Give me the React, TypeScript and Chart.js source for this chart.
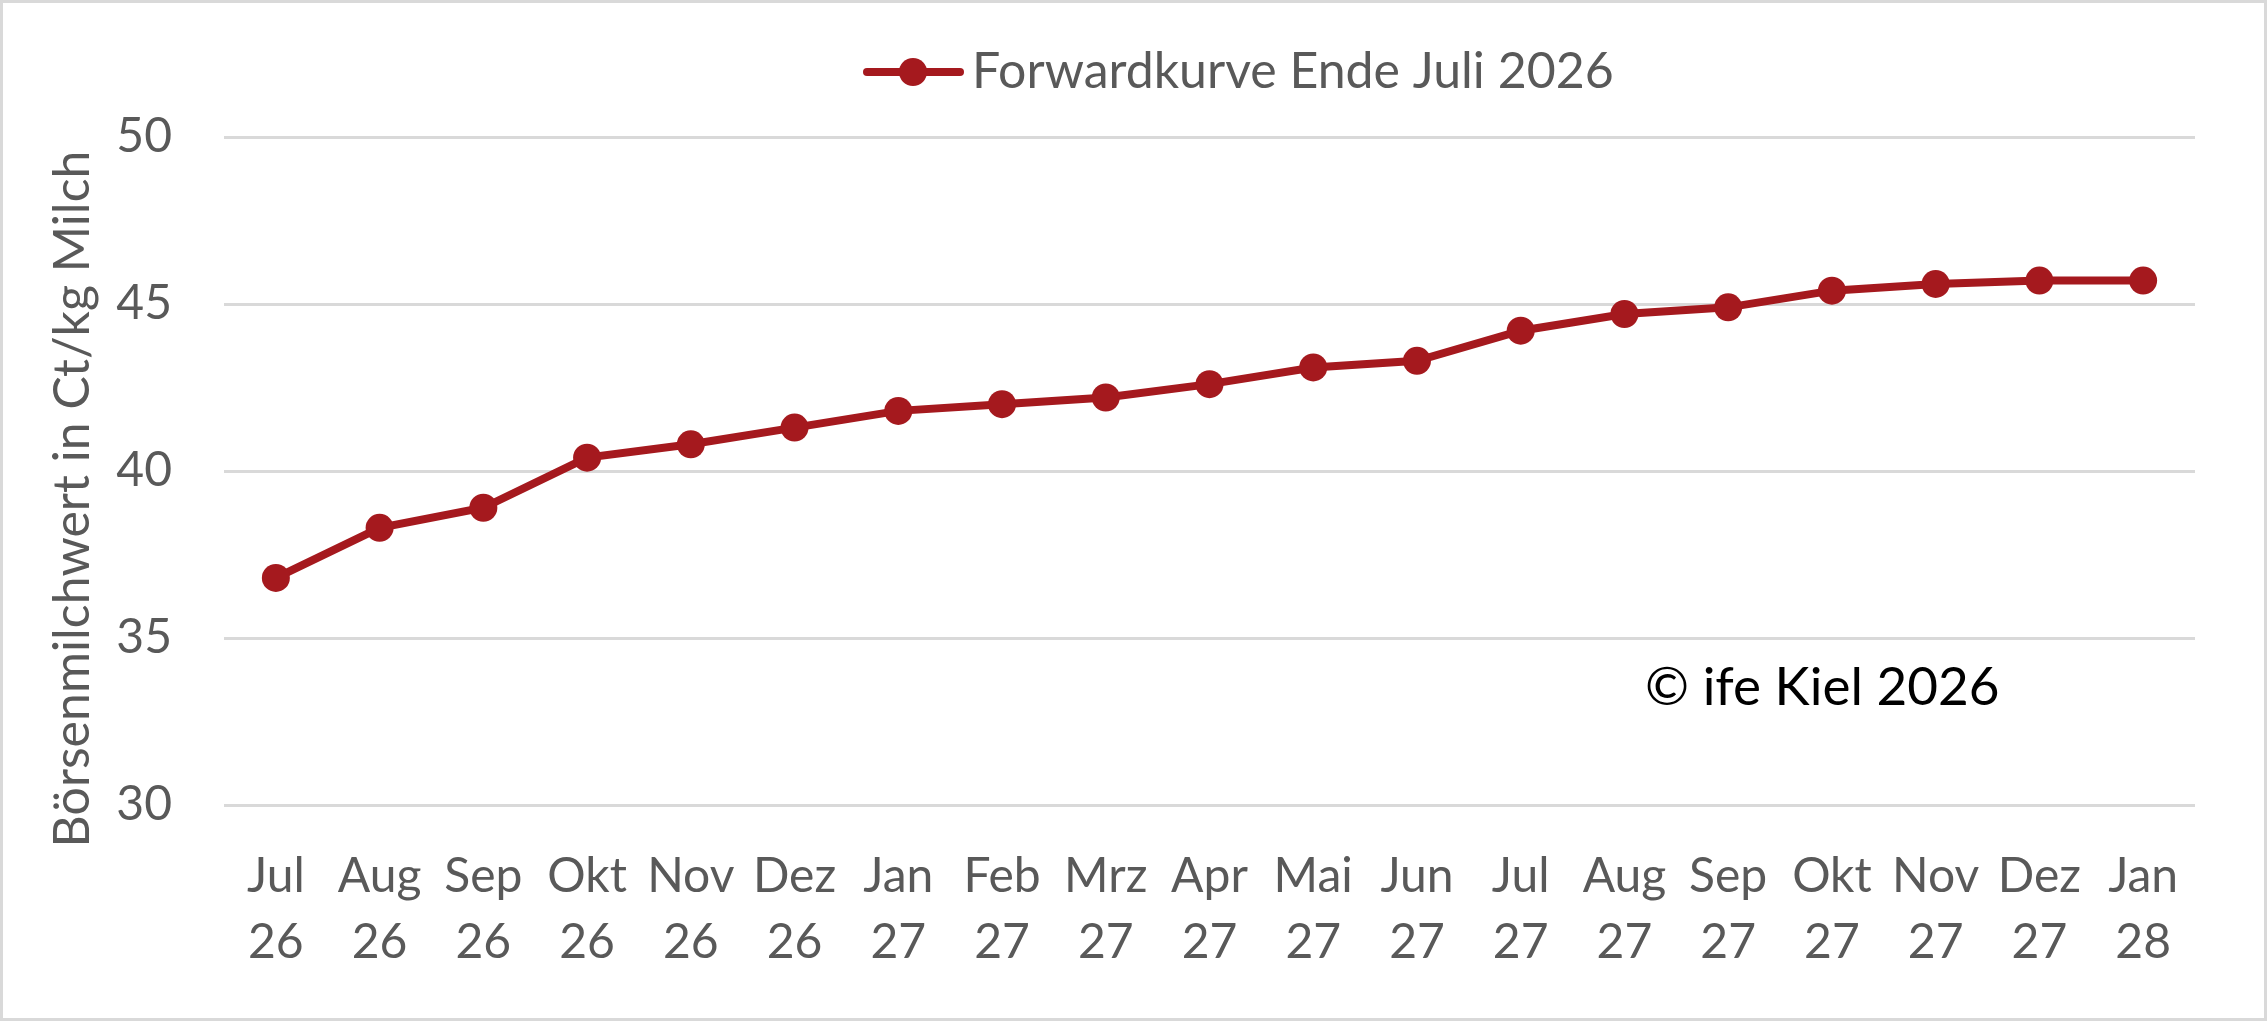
import React, { useEffect, useRef } from "react";
import Chart from "chart.js/auto";

const months = ["Jul", "Aug", "Sep", "Okt", "Nov", "Dez", "Jan", "Feb", "Mrz", "Apr", "Mai", "Jun", "Jul", "Aug", "Sep", "Okt", "Nov", "Dez", "Jan"];
const years = ["26", "26", "26", "26", "26", "26", "27", "27", "27", "27", "27", "27", "27", "27", "27", "27", "27", "27", "28"];
const forward = [36.8, 38.3, 38.9, 40.4, 40.8, 41.3, 41.8, 42.0, 42.2, 42.6, 43.1, 43.3, 44.2, 44.7, 44.9, 45.4, 45.6, 45.7, 45.7];

const seriesLabel = "Forwardkurve Ende Juli 2026";
const yTitle = "Börsenmilchwert in Ct/kg Milch";
const copyright = "© ife Kiel 2026";

const W = 2267;
const H = 1021;
const RED = "#A5191E";
const GREY = "#595959";
const FONT = "Lato, 'Open Sans', sans-serif";

export default function App() {
  const canvasRef = useRef<HTMLCanvasElement | null>(null);

  useEffect(() => {
    document.body.style.margin = "0";
    const canvas = canvasRef.current;
    if (!canvas) return;

    const chart = new Chart(canvas, {
      type: "line",
      data: {
        labels: months.map((m, i) => [m, years[i]]),
        datasets: [
          {
            label: seriesLabel,
            data: forward,
            borderColor: RED,
            backgroundColor: RED,
            borderWidth: 8,
            pointRadius: 14,
            pointHoverRadius: 14,
            pointBorderWidth: 0,
            tension: 0,
          },
        ],
      },
      options: {
        responsive: false,
        animation: false,
        devicePixelRatio: 1,
        layout: { padding: { top: 137, right: 72, bottom: 0, left: 0 } },
        plugins: {
          legend: { display: false },
          tooltip: { enabled: false },
        },
        scales: {
          x: {
            offset: true,
            grid: { display: false },
            border: { display: false },
            ticks: {
              color: GREY,
              font: { family: FONT, size: 48, lineHeight: 1.375 },
              padding: 31,
              maxRotation: 0,
              autoSkip: false,
            },
            afterFit: (scale) => {
              scale.height = H - 805;
            },
          },
          y: {
            min: 30,
            max: 50,
            ticks: {
              stepSize: 5,
              color: GREY,
              font: { family: FONT, size: 48 },
              padding: 52,
            },
            grid: { color: "#D9D9D9", lineWidth: 3, drawTicks: false },
            border: { display: false },
            afterFit: (scale) => {
              scale.width = 224;
            },
          },
        },
      },
      plugins: [
        {
          id: "frame",
          beforeDraw: (c) => {
            const ctx = c.ctx;
            ctx.save();
            ctx.fillStyle = "#FFFFFF";
            ctx.fillRect(0, 0, c.width, c.height);
            ctx.strokeStyle = "#D9D9D9";
            ctx.lineWidth = 3;
            ctx.strokeRect(1.5, 1.5, c.width - 3, c.height - 3);
            ctx.restore();
          },
          afterDraw: (c) => {
            const ctx = c.ctx;
            const area = c.chartArea;
            ctx.save();

            // y axis title
            ctx.translate(73, (area.top + area.bottom) / 2 + 28);
            ctx.rotate(-Math.PI / 2);
            ctx.fillStyle = GREY;
            ctx.font = `50px ${FONT}`;
            ctx.textAlign = "center";
            ctx.textBaseline = "middle";
            ctx.fillText(yTitle, 0, 0);
            ctx.setTransform(1, 0, 0, 1, 0, 0);

            // legend: line with marker, then label
            const ly = 72;
            const lx = 867;
            ctx.strokeStyle = RED;
            ctx.lineWidth = 8;
            ctx.lineCap = "round";
            ctx.beginPath();
            ctx.moveTo(lx, ly);
            ctx.lineTo(lx + 93, ly);
            ctx.stroke();
            ctx.fillStyle = RED;
            ctx.beginPath();
            ctx.arc(lx + 46, ly, 14, 0, Math.PI * 2);
            ctx.fill();
            ctx.fillStyle = GREY;
            ctx.font = `50px ${FONT}`;
            ctx.textAlign = "left";
            ctx.textBaseline = "middle";
            ctx.fillText(seriesLabel, lx + 105, ly);

            // copyright note
            ctx.fillStyle = "#000000";
            ctx.font = `53px ${FONT}`;
            ctx.fillText(copyright, 1645, 688);

            ctx.restore();
          },
        },
      ],
    });

    return () => {
      chart.destroy();
    };
  }, []);

  return (
    <div style={{ width: W, height: H }}>
      <canvas ref={canvasRef} width={W} height={H} style={{ width: W, height: H, display: "block" }} />
    </div>
  );
}
